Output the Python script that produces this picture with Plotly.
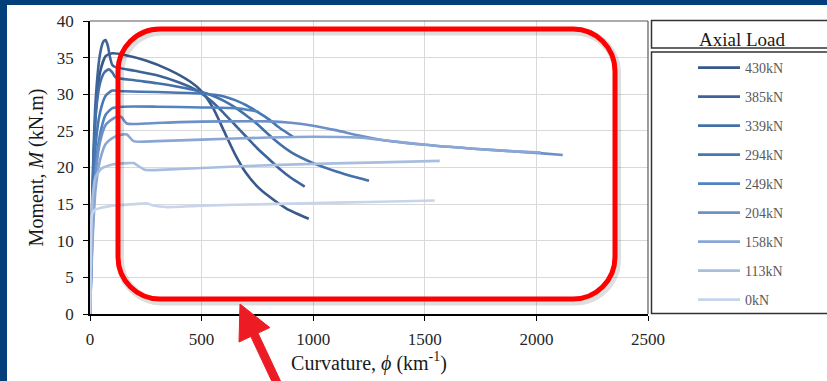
import plotly.graph_objects as go

# ---------------- data ----------------
labels = ["430kN", "385kN", "339kN", "294kN", "249kN", "204kN", "158kN", "113kN", "0kN"]
colors = ["#38598a", "#3d649a", "#4470a8", "#4878b2", "#5283bf", "#6c90c7", "#8aa6d3", "#a8bedf", "#c8d4ea"]

phi_430 = [0, 10, 25, 45, 70, 100, 150, 250, 350, 450, 500, 550, 600, 650, 700, 750, 800, 880, 980]
m_430 = [0, 14, 27, 33, 35.2, 35.6, 35.4, 34.6, 33.4, 31.7, 30.4, 28.2, 25.0, 21.8, 19.2, 17.4, 16.1, 14.4, 13.0]

phi_385 = [0, 10, 25, 45, 60, 70, 80, 90, 100, 115, 200, 300, 400, 480, 550, 600, 650, 700, 750, 800, 850, 900, 962]
m_385 = [0, 16, 29, 35.5, 37.2, 37.4, 36.6, 35.0, 34.0, 33.7, 33.2, 32.6, 31.6, 30.5, 28.9, 27.4, 25.8, 24.2, 22.6, 21.2, 19.8, 18.6, 17.4]

phi_339 = [0, 10, 25, 45, 65, 85, 100, 115, 200, 300, 400, 500, 550, 600, 650, 700, 750, 800, 850, 900, 1000, 1100, 1200, 1250]
m_339 = [0, 15, 27, 31.5, 33.0, 33.4, 33.0, 32.3, 31.9, 31.5, 31.0, 30.3, 29.8, 29.1, 28.2, 27.1, 25.9, 24.5, 23.2, 22.1, 20.6, 19.5, 18.6, 18.2]

phi_294 = [0, 10, 25, 45, 70, 100, 150, 300, 500, 600, 650, 700, 750, 800, 850, 910]
m_294 = [0, 13, 23, 27.5, 29.8, 30.5, 30.4, 30.3, 30.1, 29.7, 29.2, 28.5, 27.6, 26.6, 25.4, 24.2]

phi_249 = [0, 10, 25, 45, 70, 100, 150, 300, 500, 650, 700, 740, 757]
m_249 = [0, 11, 20, 24.5, 27.2, 28.1, 28.3, 28.3, 28.2, 28.1, 27.9, 27.7, 27.5]

phi_204 = [0, 10, 25, 45, 70, 100, 125, 140, 165, 250, 400, 600, 800, 900, 1000, 1100, 1200, 1300, 1500, 1700, 1900, 2000, 2118]
m_204 = [0, 10, 19, 23.5, 25.8, 26.6, 27.0, 26.9, 26.0, 26.0, 26.2, 26.3, 26.3, 26.1, 25.7, 25.1, 24.4, 23.8, 23.1, 22.6, 22.2, 22.0, 21.7]

phi_158 = [0, 10, 25, 45, 70, 100, 130, 165, 195, 300, 500, 800, 1000, 1200, 1300, 1500, 1700, 1900, 2020]
m_158 = [0, 9, 17, 21, 23.2, 24.0, 24.4, 24.5, 23.6, 23.6, 23.8, 24.1, 24.2, 24.1, 23.8, 23.1, 22.6, 22.2, 22.05]

phi_113 = [0, 5, 12, 25, 50, 100, 170, 195, 245, 400, 700, 1000, 1300, 1567]
m_113 = [0, 10, 16, 18.7, 19.8, 20.4, 20.6, 20.6, 19.7, 19.8, 20.2, 20.5, 20.7, 20.9]

phi_0 = [0, 3, 8, 20, 50, 100, 200, 255, 285, 340, 500, 800, 1100, 1400, 1545]
m_0 = [0, 8, 13.5, 14.2, 14.5, 14.8, 15.0, 15.1, 14.8, 14.6, 14.8, 15.0, 15.2, 15.4, 15.5]

series_phi = [phi_430, phi_385, phi_339, phi_294, phi_249, phi_204, phi_158, phi_113, phi_0]
series_m = [m_430, m_385, m_339, m_294, m_249, m_204, m_158, m_113, m_0]

x_ticks = [0, 500, 1000, 1500, 2000, 2500]
y_ticks = [0, 5, 10, 15, 20, 25, 30, 35, 40]

# ---------------- layout geometry (pixels) ----------------
W, H = 827, 381
L, R, T, B = 90, 179, 21, 67
PW, PH = W - L - R, H - T - B


def px(xp):
    return (xp - L) / PW


def py(yp):
    return (H - B - yp) / PH


SERIF = "Liberation Serif, Times New Roman, serif"

fig = go.Figure()
for i, (lab, col) in enumerate(zip(labels, colors)):
    fig.add_trace(go.Scatter(
        x=series_phi[i], y=series_m[i], mode="lines", name=lab,
        legendgroup=lab,
        line=dict(color=col, width=2.6, shape="spline", smoothing=0.6),
    ))

shapes = []
blue = "#033f7a"
# frame bands
shapes.append(dict(type="rect", xref="paper", yref="paper", x0=px(-20), x1=px(W + 20),
                   y0=py(5), y1=py(-20), fillcolor=blue, line=dict(width=0), layer="above"))
shapes.append(dict(type="rect", xref="paper", yref="paper", x0=px(-20), x1=px(7),
                   y0=py(H + 20), y1=py(-20), fillcolor=blue, line=dict(width=0), layer="above"))
# plot border top/right
shapes.append(dict(type="line", xref="paper", yref="paper", x0=0, x1=1, y0=1, y1=1,
                   line=dict(color="#595959", width=1.2)))
shapes.append(dict(type="line", xref="paper", yref="paper", x0=1, x1=1, y0=0, y1=1,
                   line=dict(color="#595959", width=1.2)))
# legend boxes
shapes.append(dict(type="rect", xref="paper", yref="paper", x0=px(651.5), x1=px(W + 20),
                   y0=py(48), y1=py(20.5), line=dict(color="#333333", width=1.5)))
shapes.append(dict(type="rect", xref="paper", yref="paper", x0=px(651.5), x1=px(W + 20),
                   y0=py(313.5), y1=py(52), line=dict(color="#333333", width=1.5)))


def rounded_path(x1, y1, x2, y2, r, dx=0, dy=0):
    k = 0.5523 * r
    x1 += dx; x2 += dx; y1 += dy; y2 += dy
    pts = [
        ("M", [(x1 + r, y1)]),
        ("L", [(x2 - r, y1)]),
        ("C", [(x2 - r + k, y1), (x2, y1 + r - k), (x2, y1 + r)]),
        ("L", [(x2, y2 - r)]),
        ("C", [(x2, y2 - r + k), (x2 - r + k, y2), (x2 - r, y2)]),
        ("L", [(x1 + r, y2)]),
        ("C", [(x1 + r - k, y2), (x1, y2 - r + k), (x1, y2 - r)]),
        ("L", [(x1, y1 + r)]),
        ("C", [(x1, y1 + r - k), (x1 + r - k, y1), (x1 + r, y1)]),
    ]
    s = ""
    for cmd, pp in pts:
        s += cmd + " ".join(f"{px(a):.5f},{py(b):.5f}" for a, b in pp)
    return s + "Z"


def poly_path(points):
    s = "M" + " L".join(f"{px(a):.5f},{py(b):.5f}" for a, b in points)
    return s + " Z"


# shadow + red box
shapes.append(dict(type="path", xref="paper", yref="paper",
                   path=rounded_path(118, 29, 615, 299, 42, 2, 2.5),
                   line=dict(color="rgba(0,0,0,0.13)", width=8)))
shapes.append(dict(type="path", xref="paper", yref="paper",
                   path=rounded_path(118, 29, 615, 299, 42),
                   line=dict(color="#ff0000", width=5)))

# red arrow (pixel polygon)
arrow_pts = [(240, 304), (269.8, 327.6), (258.0, 333.1), (290.3, 401.9),
             (283.1, 405.3), (250.8, 336.5), (239.0, 342.0)]
shapes.append(dict(type="path", xref="paper", yref="paper", path=poly_path(arrow_pts),
                   fillcolor="#ed1c24", line=dict(color="#ed1c24", width=1)))

fig.update_layout(
    width=W, height=H,
    margin=dict(l=L, r=R, t=T, b=B),
    paper_bgcolor="white", plot_bgcolor="white",
    shapes=shapes,
    showlegend=True,
    legend=dict(x=px(693), xanchor="left", y=py(52), yanchor="top",
                bgcolor="rgba(0,0,0,0)", borderwidth=0,
                font=dict(family=SERIF, size=14, color="#595959"),
                tracegroupgap=7.8, itemwidth=42),
    xaxis=dict(range=[0, 2500], tickvals=x_ticks, showgrid=True, gridcolor="#d9d9d9", gridwidth=1,
               showline=True, linecolor="black", linewidth=1.5, ticks="outside", ticklen=5,
               tickcolor="black", zeroline=False, ticklabelstandoff=4,
               tickfont=dict(family=SERIF, size=17, color="#262626"),
               title=dict(text="Curvature, <i>ϕ</i> (km<sup>-1</sup>)", standoff=6,
                          font=dict(family=SERIF, size=20, color="#1a1a1a"))),
    yaxis=dict(range=[0, 40], tickvals=y_ticks, showgrid=True, gridcolor="#d9d9d9", gridwidth=1,
               showline=True, linecolor="black", linewidth=1.5, ticks="outside", ticklen=5,
               tickcolor="black", zeroline=False, ticklabelstandoff=6,
               tickfont=dict(family=SERIF, size=17, color="#262626"),
               title=dict(text="Moment, <i>M</i> (kN.m)", standoff=8,
                          font=dict(family=SERIF, size=20, color="#1a1a1a"))),
    annotations=[
        dict(text="Axial Load", xref="paper", yref="paper", x=px(742), y=py(40),
             xanchor="center", yanchor="middle", showarrow=False,
             font=dict(family=SERIF, size=19, color="#1a1a1a")),
    ],
)

fig.write_html("out.html")
